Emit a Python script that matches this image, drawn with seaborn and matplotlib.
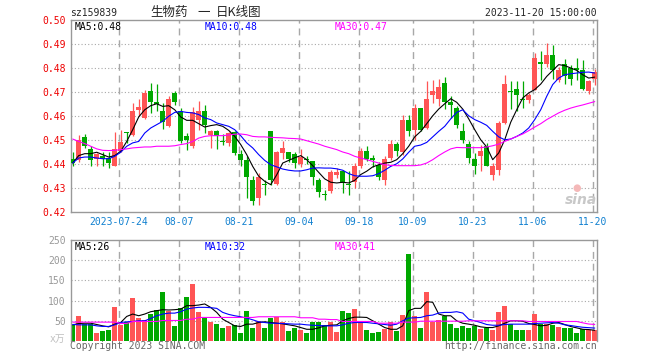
import numpy as np
import pandas as pd
import seaborn as sns
import matplotlib.pyplot as plt

code = 'sz159839'
title_parts = ['生物药', '一', '日K线图']
stamp = '2023-11-20 15:00:00'

holidays = ['2023-09-29', '2023-10-02', '2023-10-03', '2023-10-04', '2023-10-05', '2023-10-06']
tick_dates = ['2023-07-24', '2023-08-07', '2023-08-21', '2023-09-04', '2023-09-18',
              '2023-10-09', '2023-10-23', '2023-11-06', '2023-11-20']
price_ticks = [0.42, 0.43, 0.44, 0.45, 0.46, 0.47, 0.48, 0.49, 0.50]
vol_ticks = [50, 100, 150, 200, 250]

opens = [0.4421, 0.4415, 0.4513, 0.4463, 0.4420, 0.4435, 0.4425, 0.4393, 0.4454, 0.4533,
         0.4522, 0.4625, 0.4592, 0.4703, 0.4660, 0.4622, 0.4557, 0.4696, 0.4622, 0.4518,
         0.4474, 0.4585, 0.4622, 0.4522, 0.4536, 0.4493, 0.4488, 0.4532, 0.4443, 0.4415,
         0.4335, 0.4258, 0.4313, 0.4536, 0.4317, 0.4446, 0.4450, 0.4443, 0.4401, 0.4422,
         0.4414, 0.4335, 0.4274, 0.4286, 0.4356, 0.4370, 0.4315, 0.4324, 0.4393, 0.4453,
         0.4425, 0.4397, 0.4335, 0.4425, 0.4483, 0.4449, 0.4585, 0.4543, 0.4633, 0.4550,
         0.4689, 0.4672, 0.4738, 0.4657, 0.4633, 0.4536, 0.4485, 0.4422, 0.4435, 0.4474,
         0.4356, 0.4374, 0.4571, 0.4701, 0.4714, 0.4672, 0.4665, 0.4710, 0.4824, 0.4817,
         0.4856, 0.4751, 0.4817, 0.4800, 0.4800, 0.4790, 0.4703, 0.4754]
closes = [0.4404, 0.4501, 0.4474, 0.4418, 0.4440, 0.4422, 0.4404, 0.4464, 0.4493, 0.4531,
          0.4622, 0.4636, 0.4696, 0.4657, 0.4650, 0.4574, 0.4672, 0.4657, 0.4494, 0.4500,
          0.4615, 0.4622, 0.4564, 0.4536, 0.4518, 0.4492, 0.4529, 0.4446, 0.4415, 0.4344,
          0.4244, 0.4346, 0.4311, 0.4335, 0.4450, 0.4467, 0.4421, 0.4404, 0.4429, 0.4415,
          0.4344, 0.4283, 0.4272, 0.4365, 0.4365, 0.4321, 0.4313, 0.4393, 0.4453, 0.4421,
          0.4415, 0.4344, 0.4422, 0.4483, 0.4453, 0.4585, 0.4536, 0.4633, 0.4543, 0.4672,
          0.4703, 0.4721, 0.4657, 0.4647, 0.4564, 0.4501, 0.4425, 0.4393, 0.4453, 0.4393,
          0.4393, 0.4571, 0.4735, 0.4700, 0.4686, 0.4665, 0.4686, 0.4842, 0.4817, 0.4856,
          0.4793, 0.4793, 0.4765, 0.4754, 0.4793, 0.4714, 0.4744, 0.4782]
highs = [0.4450, 0.4522, 0.4525, 0.4474, 0.4445, 0.4450, 0.4450, 0.4533, 0.4543, 0.4533,
         0.4654, 0.4672, 0.4710, 0.4738, 0.4735, 0.4654, 0.4682, 0.4703, 0.4633, 0.4530,
         0.4638, 0.4664, 0.4647, 0.4543, 0.4543, 0.4525, 0.4532, 0.4536, 0.4457, 0.4435,
         0.4349, 0.4363, 0.4335, 0.4536, 0.4453, 0.4494, 0.4450, 0.4450, 0.4464, 0.4435,
         0.4414, 0.4342, 0.4293, 0.4376, 0.4383, 0.4376, 0.4370, 0.4404, 0.4467, 0.4474,
         0.4439, 0.4408, 0.4435, 0.4501, 0.4490, 0.4606, 0.4606, 0.4651, 0.4633, 0.4744,
         0.4751, 0.4754, 0.4763, 0.4682, 0.4640, 0.4571, 0.4497, 0.4446, 0.4481, 0.4488,
         0.4404, 0.4578, 0.4772, 0.4744, 0.4744, 0.4744, 0.4696, 0.4863, 0.4869, 0.4904,
         0.4894, 0.4804, 0.4838, 0.4814, 0.4842, 0.4835, 0.4751, 0.4796]
lows = [0.4390, 0.4410, 0.4467, 0.4390, 0.4390, 0.4390, 0.4383, 0.4390, 0.4450, 0.4488,
        0.4518, 0.4601, 0.4588, 0.4613, 0.4620, 0.4546, 0.4553, 0.4647, 0.4488, 0.4460,
        0.4467, 0.4543, 0.4529, 0.4467, 0.4463, 0.4480, 0.4474, 0.4439, 0.4390, 0.4258,
        0.4230, 0.4230, 0.4270, 0.4314, 0.4311, 0.4421, 0.4407, 0.4383, 0.4388, 0.4400,
        0.4311, 0.4261, 0.4251, 0.4279, 0.4342, 0.4279, 0.4270, 0.4300, 0.4383, 0.4411,
        0.4388, 0.4335, 0.4311, 0.4418, 0.4432, 0.4439, 0.4515, 0.4501, 0.4536, 0.4546,
        0.4654, 0.4640, 0.4630, 0.4592, 0.4550, 0.4488, 0.4404, 0.4360, 0.4370, 0.4390,
        0.4332, 0.4353, 0.4568, 0.4630, 0.4619, 0.4633, 0.4654, 0.4710, 0.4750, 0.4804,
        0.4754, 0.4740, 0.4735, 0.4730, 0.4750, 0.4710, 0.4692, 0.4730]

ma5 = [0.4404, 0.4435, 0.4443, 0.4443, 0.4449, 0.4439, 0.4429, 0.4435, 0.4453, 0.4494,
       0.4543, 0.4596, 0.4626, 0.4643, 0.4651, 0.4640, 0.4643, 0.4626, 0.4596, 0.4582,
       0.4582, 0.4568, 0.4554, 0.4560, 0.4564, 0.4557, 0.4540, 0.4515, 0.4481, 0.4439,
       0.4390, 0.4349, 0.4328, 0.4314, 0.4355, 0.4404, 0.4415, 0.4426, 0.4435, 0.4418,
       0.4393, 0.4365, 0.4338, 0.4324, 0.4321, 0.4324, 0.4321, 0.4332, 0.4356, 0.4370,
       0.4388, 0.4397, 0.4404, 0.4407, 0.4418, 0.4443, 0.4474, 0.4513, 0.4536, 0.4568,
       0.4601, 0.4629, 0.4651, 0.4672, 0.4657, 0.4629, 0.4588, 0.4543, 0.4501, 0.4471,
       0.4418, 0.4446, 0.4501, 0.4574, 0.4626, 0.4675, 0.4696, 0.4710, 0.4733, 0.4765,
       0.4790, 0.4814, 0.4810, 0.4800, 0.4790, 0.4772, 0.4758, 0.4762]
ma10 = [0.4404, 0.4425, 0.4429, 0.4429, 0.4425, 0.4422, 0.4422, 0.4432, 0.4449, 0.4474,
        0.4488, 0.4494, 0.4529, 0.4550, 0.4564, 0.4578, 0.4599, 0.4615, 0.4619, 0.4615,
        0.4613, 0.4606, 0.4592, 0.4585, 0.4571, 0.4564, 0.4557, 0.4543, 0.4518, 0.4488,
        0.4467, 0.4439, 0.4415, 0.4397, 0.4388, 0.4379, 0.4374, 0.4371, 0.4371, 0.4376,
        0.4383, 0.4384, 0.4383, 0.4383, 0.4380, 0.4374, 0.4360, 0.4351, 0.4349, 0.4349,
        0.4351, 0.4360, 0.4374, 0.4390, 0.4401, 0.4421, 0.4449, 0.4474, 0.4479, 0.4490,
        0.4513, 0.4536, 0.4557, 0.4588, 0.4615, 0.4626, 0.4601, 0.4585, 0.4574, 0.4561,
        0.4536, 0.4513, 0.4501, 0.4504, 0.4515, 0.4529, 0.4550, 0.4585, 0.4626, 0.4682,
        0.4731, 0.4758, 0.4772, 0.4776, 0.4779, 0.4782, 0.4783, 0.4779]
ma30 = [0.4504, 0.4494, 0.4485, 0.4474, 0.4463, 0.4457, 0.4456, 0.4457, 0.4460, 0.4463,
        0.4467, 0.4469, 0.4471, 0.4471, 0.4474, 0.4474, 0.4474, 0.4476, 0.4481, 0.4485,
        0.4494, 0.4508, 0.4515, 0.4518, 0.4518, 0.4518, 0.4521, 0.4524, 0.4525, 0.4522,
        0.4515, 0.4513, 0.4513, 0.4511, 0.4510, 0.4509, 0.4507, 0.4506, 0.4504, 0.4497,
        0.4490, 0.4483, 0.4474, 0.4467, 0.4460, 0.4450, 0.4443, 0.4432, 0.4425, 0.4418,
        0.4411, 0.4404, 0.4397, 0.4394, 0.4393, 0.4393, 0.4393, 0.4393, 0.4396, 0.4404,
        0.4418, 0.4435, 0.4450, 0.4463, 0.4469, 0.4468, 0.4468, 0.4468, 0.4468, 0.4471,
        0.4476, 0.4483, 0.4494, 0.4504, 0.4515, 0.4525, 0.4539, 0.4554, 0.4568, 0.4585,
        0.4599, 0.4613, 0.4624, 0.4633, 0.4640, 0.4646, 0.4653, 0.4660]

volumes = [39, 62.5, 42, 42, 19, 25, 27.5, 85, 40, 48,
           106, 56, 52, 67, 77.5, 122.5, 75, 37.5, 81, 110,
           140, 71, 60, 46, 43, 33, 37.5, 40, 21, 75,
           33, 50, 31, 58, 60, 46, 25, 31, 27.5, 21,
           46, 46, 40, 46, 22.5, 75, 69, 80, 48, 27.5,
           21, 22.5, 29, 47.5, 25, 65, 215, 62.5, 33, 122.5,
           46, 52, 62.5, 43, 33, 36, 33, 37.5, 29, 33,
           27.5, 72.5, 87.5, 42, 27.5, 27.5, 27.5, 68, 43, 43,
           40, 35, 31, 31, 21, 29, 27.5, 27.5]
vma5 = [40, 43.3, 44, 44, 40.8, 37.5, 35, 41.7, 45.8, 60.8,
        66.7, 62.5, 66.7, 72.5, 75, 77.5, 76.7, 77.5, 79, 87.5,
        87.5, 89, 91.7, 83, 70.8, 54, 45.8, 37.5, 36, 41.7,
        41.7, 45.8, 47.5, 45.8, 44, 42.5, 40, 37.5, 33.3, 29,
        29, 32.5, 37.5, 39, 40, 50, 55.8, 59, 59, 58.3,
        50, 41.7, 33.3, 29, 29, 37.5, 75, 80.8, 80.8, 97.5,
        95.8, 66.7, 62.5, 62.5, 50, 44, 41.7, 39, 35, 33.3,
        33.3, 37.5, 44, 50, 50, 49, 43.3, 40.8, 37.5, 39,
        44, 45.8, 40.8, 35.8, 32.5, 29, 28.3, 26.5]
vma10 = [41, 40, 40, 40, 37.5, 36, 36, 40, 45.8, 47.5,
         48.3, 50, 50, 55.8, 62.5, 66.7, 69, 69, 72.5, 79,
         81.7, 83.3, 83.3, 82.5, 80.8, 70.8, 65.8, 62.5, 60, 56.7,
         52.5, 47.5, 45.8, 44, 44, 43.3, 42.5, 41.7, 41.7, 40,
         39, 38.3, 37.5, 37.5, 37.5, 40, 44, 45.8, 45.8, 45.8,
         44, 42.5, 40.8, 39, 41.7, 50, 56.7, 57.5, 58.3, 62.5,
         64.2, 69.2, 70.8, 70.8, 72.5, 69.2, 54, 50, 45.8, 40.8,
         39, 39, 40.8, 41.7, 41.7, 41.7, 41.7, 43.3, 44, 45,
         45.8, 44, 40, 38.3, 36, 34, 33, 32]
vma30 = [46.7, 46.7, 46.7, 46.7, 46.7, 46.7, 46.7, 46.7, 43.3, 43.3,
         48.3, 48.3, 48.3, 48.3, 48.3, 50.8, 50.8, 50.8, 50.8, 54,
         54, 58.3, 58.3, 58.3, 58.3, 58.3, 58.3, 58.3, 58.3, 58.3,
         58.3, 60, 60, 60, 60, 60, 60, 60, 57.5, 57.5,
         57.5, 54, 54, 53, 53, 48.3, 48.3, 48.3, 48.3, 48.3,
         48.3, 44, 44, 44, 44, 46.7, 46.7, 46.7, 49, 49,
         49, 49, 49, 49, 49, 49, 50, 50, 50, 50,
         50, 50, 50, 50, 50, 50, 48.3, 48.3, 48.3, 48.3,
         48.3, 48.3, 48.3, 48.3, 48.3, 45, 42, 41]

# trading calendar
days = pd.bdate_range('2023-07-12', '2023-11-20')
days = days[~days.isin(pd.to_datetime(holidays))]
df = pd.DataFrame({'open': opens, 'close': closes, 'high': highs, 'low': lows,
                   'vol': volumes, 'ma5': ma5, 'ma10': ma10, 'ma30': ma30,
                   'vma5': vma5, 'vma10': vma10, 'vma30': vma30}, index=days)
df['x'] = np.arange(len(df))

up_c = '#ff5555'
down_c = '#00a800'
grid_c = '#a8a8a8'
colors = np.where(df['close'] >= df['open'], up_c, down_c)

sns.set_style('white')
plt.rcParams['font.family'] = ['DejaVu Sans Mono', 'Noto Sans CJK SC']

W, H = 660, 360
fig = plt.figure(figsize=(6.6, 3.6), dpi=100)
L, R = 70.5, 597
ax = fig.add_axes([L / W, 1 - 212 / H, (R - L) / W, 192 / H])
axv = fig.add_axes([L / W, 1 - 341 / H, (R - L) / W, 101 / H])

tick_x = [df.index.get_loc(pd.Timestamp(d)) - 0.35 for d in tick_dates]
tick_lbl = [tick_dates[0]] + [d[5:] for d in tick_dates[1:]]

# grid lines
for a, levels in ((ax, price_ticks[1:-1]), (axv, vol_ticks[:-1])):
    for v in levels:
        a.axhline(v, color=grid_c, lw=0.8, ls=(0, (1, 2)), zorder=1)
    for t in tick_x:
        a.axvline(t, color=grid_c, lw=1.0, ls=(0, (5, 3.5)), zorder=1)

# candles
ax.vlines(df['x'], df['low'], df['high'], colors=colors, lw=0.9, zorder=2)
body_lo = np.minimum(df['open'], df['close'])
body_h = np.maximum((df['close'] - df['open']).abs(), 0.0004)
ax.bar(df['x'], body_h, bottom=body_lo, width=0.8, color=colors, linewidth=0, zorder=3)

sns.lineplot(x=df['x'], y=df['ma5'], color='black', lw=0.8, ax=ax, zorder=4)
sns.lineplot(x=df['x'], y=df['ma10'], color='#0000ff', lw=0.8, ax=ax, zorder=4)
sns.lineplot(x=df['x'], y=df['ma30'], color='#ff00ff', lw=0.8, ax=ax, zorder=4)

# volume
axv.bar(df['x'], df['vol'], width=0.8, color=colors, linewidth=0, zorder=2)
sns.lineplot(x=df['x'], y=df['vma5'], color='black', lw=0.8, ax=axv, zorder=4)
sns.lineplot(x=df['x'], y=df['vma10'], color='#0000ff', lw=0.8, ax=axv, zorder=4)
sns.lineplot(x=df['x'], y=df['vma30'], color='#ff00ff', lw=0.8, ax=axv, zorder=4)

for a in (ax, axv):
    a.set_xlim(-0.37, 87.38)
    a.set_xlabel('')
    a.set_ylabel('')
    for s in a.spines.values():
        s.set_color('#999999')
        s.set_linewidth(1.0)
axv.spines['bottom'].set_visible(False)

ax.set_ylim(0.42, 0.50)
ax.set_yticks(price_ticks)
ax.set_yticklabels([f'{v:.2f}' for v in price_ticks], color='#ee0000', fontsize=7)
ax.set_xticks(tick_x)
ax.set_xticklabels(tick_lbl, color='#1080d0', fontsize=7)
ax.tick_params(length=0, pad=3.5)

axv.set_ylim(0, 250)
axv.set_yticks(vol_ticks)
axv.set_yticklabels([str(v) for v in vol_ticks], color='#999999', fontsize=7)
axv.set_xticks([])
axv.tick_params(length=0, pad=3.5)

def ft(x, y, s, size=7, **kw):
    fig.text(x / W, 1 - y / H, s, va='center', fontsize=size, **kw)

cjk = ['Noto Sans CJK SC', 'DejaVu Sans']
ft(70, 13, code, ha='left')
ft(150, 12.5, title_parts[0], size=9, ha='left', family=cjk)
ft(204, 12.5, title_parts[1], size=9, ha='center', family=cjk)
ft(216, 12.5, title_parts[2], size=9, ha='left', family=cjk)
ft(597, 13, stamp, ha='right')

ft(75, 27, 'MA5:%.2f' % ma5[-1], ha='left', color='black')
ft(205, 27, 'MA10:%.2f' % ma10[-1], ha='left', color='#0000ff')
ft(335, 27, 'MA30:%.2f' % ma30[-1], ha='left', color='#ff00ff')
ft(75, 247, 'MA5:%d' % round(vma5[-1]), ha='left', color='black')
ft(205, 247, 'MA10:%d' % round(vma10[-1]), ha='left', color='#0000ff')
ft(335, 247, 'MA30:%d' % round(vma30[-1]), ha='left', color='#ff00ff')

ft(50, 339, 'x万', ha='left', color='#c0c0c0', family=['DejaVu Sans Mono', 'Noto Sans CJK SC'])
ft(70, 346, 'Copyright 2023 SINA.COM', ha='left', color='#666666')
ft(597, 346, 'http://finance.sina.com.cn', ha='right', color='#666666')
ft(577, 188, '●', size=7, ha='center', color='#f4b8b8', family='DejaVu Sans')
ft(581, 200, 'sina', size=10, ha='center', color='#c8c8c8', fontweight='bold',
   style='italic', family='DejaVu Sans')

fig.savefig('out.png', dpi=100)
